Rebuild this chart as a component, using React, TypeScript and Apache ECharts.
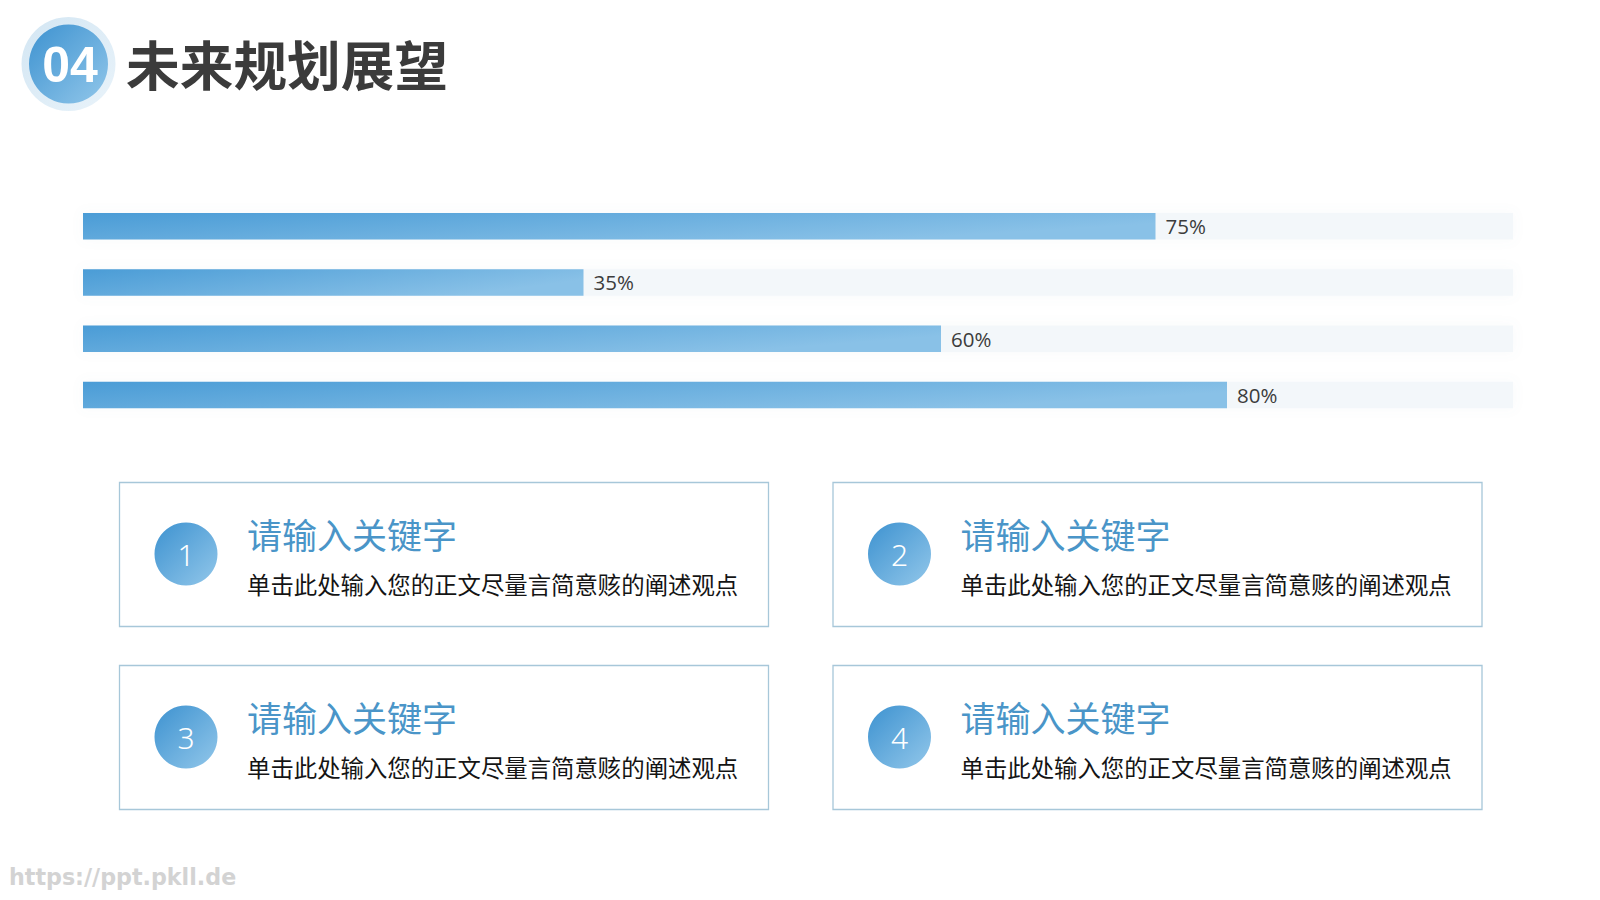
import React, { useEffect, useRef } from 'react';
import * as echarts from 'echarts';

const categories = ['规划一', '规划二', '规划三', '规划四'];
const progressValues = [75, 35, 60, 80];
const axisMax = 100;
const sectionNumber = '04';
const sectionTitle = '未来规划展望';
const cardNumbers = ['1', '2', '3', '4'];
const cardTitles = ['请输入关键字', '请输入关键字', '请输入关键字', '请输入关键字'];
const cardBodies = [
  '单击此处输入您的正文尽量言简意赅的阐述观点',
  '单击此处输入您的正文尽量言简意赅的阐述观点',
  '单击此处输入您的正文尽量言简意赅的阐述观点',
  '单击此处输入您的正文尽量言简意赅的阐述观点',
];
const watermark = 'https://ppt.pkll.de';

const CJK = '"Noto Sans CJK SC", "Noto Sans", sans-serif';

export default function App() {
  const ref = useRef<HTMLDivElement>(null);

  useEffect(() => {
    const chart = echarts.init(ref.current!, null, { renderer: 'svg' });

    const blueGrad = () =>
      new echarts.graphic.LinearGradient(0, 0, 1, 1, [
        { offset: 0, color: '#3d92d0' },
        { offset: 1, color: '#92c7ea' },
      ]);

    const graphics: any[] = [];
    // header badge
    graphics.push({
      type: 'circle',
      shape: { cx: 68.5, cy: 64, r: 47 },
      style: {
        fill: new echarts.graphic.LinearGradient(0, 0, 1, 1, [
          { offset: 0, color: '#d3e6f3' },
          { offset: 1, color: '#e9f3fa' },
        ]),
      },
    });
    graphics.push({
      type: 'circle',
      shape: { cx: 68.5, cy: 64, r: 39.5 },
      style: { fill: blueGrad() },
    });
    graphics.push({
      type: 'text',
      x: 70,
      y: 65,
      style: {
        text: sectionNumber,
        fill: '#ffffff',
        fontSize: 50,
        fontWeight: 'bold',
        fontFamily: '"Liberation Sans", Arial, sans-serif',
        textAlign: 'center',
        textVerticalAlign: 'middle',
      },
    });
    graphics.push({
      type: 'text',
      x: 126,
      y: 62.5,
      style: {
        text: sectionTitle,
        fill: '#3b3b3b',
        fontSize: 53.7,
        fontWeight: 'bold',
        fontFamily: CJK,
        textAlign: 'left',
        textVerticalAlign: 'middle',
      },
    });

    // cards
    const cardPos = [
      [119.5, 482.5],
      [833, 482.5],
      [119.5, 665.5],
      [833, 665.5],
    ];
    const cardW = 649;
    const cardH = 144;
    cardPos.forEach(([cx, cy], i) => {
      graphics.push({
        type: 'rect',
        shape: { x: cx, y: cy, width: cardW, height: cardH },
        style: { fill: '#ffffff', stroke: '#a7c7d9', lineWidth: 1.3 },
      });
      graphics.push({
        type: 'circle',
        shape: { cx: cx + 66.5, cy: cy + 71.5, r: 31.5 },
        style: { fill: blueGrad() },
      });
      graphics.push({
        type: 'text',
        x: cx + 66.5,
        y: cy + 72,
        style: {
          text: cardNumbers[i],
          fill: '#ffffff',
          fontSize: 30,
          fontFamily: '"Noto Sans", sans-serif',
          fontWeight: 300,
          textAlign: 'center',
          textVerticalAlign: 'middle',
        },
      });
      graphics.push({
        type: 'text',
        x: cx + 127.5,
        y: cy + 51,
        style: {
          text: cardTitles[i],
          fill: '#4a95c8',
          fontSize: 35,
          fontFamily: CJK,
          textAlign: 'left',
          textVerticalAlign: 'middle',
        },
      });
      graphics.push({
        type: 'text',
        x: cx + 127.5,
        y: cy + 101.5,
        style: {
          text: cardBodies[i],
          fill: '#141414',
          fontSize: 23.4,
          fontFamily: CJK,
          textAlign: 'left',
          textVerticalAlign: 'middle',
        },
      });
    });

    graphics.push({
      type: 'text',
      x: 9,
      y: 877,
      style: {
        text: watermark,
        fill: '#d3d3d3',
        fontSize: 22.2,
        fontWeight: 'bold',
        fontFamily: '"DejaVu Sans", sans-serif',
        textAlign: 'left',
        textVerticalAlign: 'middle',
      },
    });

    chart.setOption({
      animation: false,
      backgroundColor: '#ffffff',
      grid: { left: 83, right: 87, top: 198, height: 225, containLabel: false },
      xAxis: {
        type: 'value',
        min: 0,
        max: axisMax,
        show: false,
      },
      yAxis: {
        type: 'category',
        data: categories,
        inverse: true,
        show: false,
      },
      series: [
        {
          type: 'bar',
          data: progressValues,
          barWidth: 26.5,
          showBackground: true,
          backgroundStyle: {
            color: '#f3f7fa',
            shadowBlur: 12,
            shadowColor: 'rgba(120,150,170,0.06)',
          },
          itemStyle: {
            color: new echarts.graphic.LinearGradient(0, 0, 1, 0.4, [
              { offset: 0, color: '#4a9cd6' },
              { offset: 1, color: '#89c1e7' },
            ]),
          },
          label: {
            show: true,
            position: 'right',
            distance: 10,
            formatter: '{c}%',
            color: '#3c3c3c',
            fontSize: 20.5,
            fontFamily: '"Open Sans", "Noto Sans", sans-serif',
          },
        },
      ],
      graphic: graphics,
    });

    return () => chart.dispose();
  }, []);

  return (
    <div
      ref={ref}
      style={{ position: 'fixed', left: 0, top: 0, width: 1600, height: 900 }}
    />
  );
}
